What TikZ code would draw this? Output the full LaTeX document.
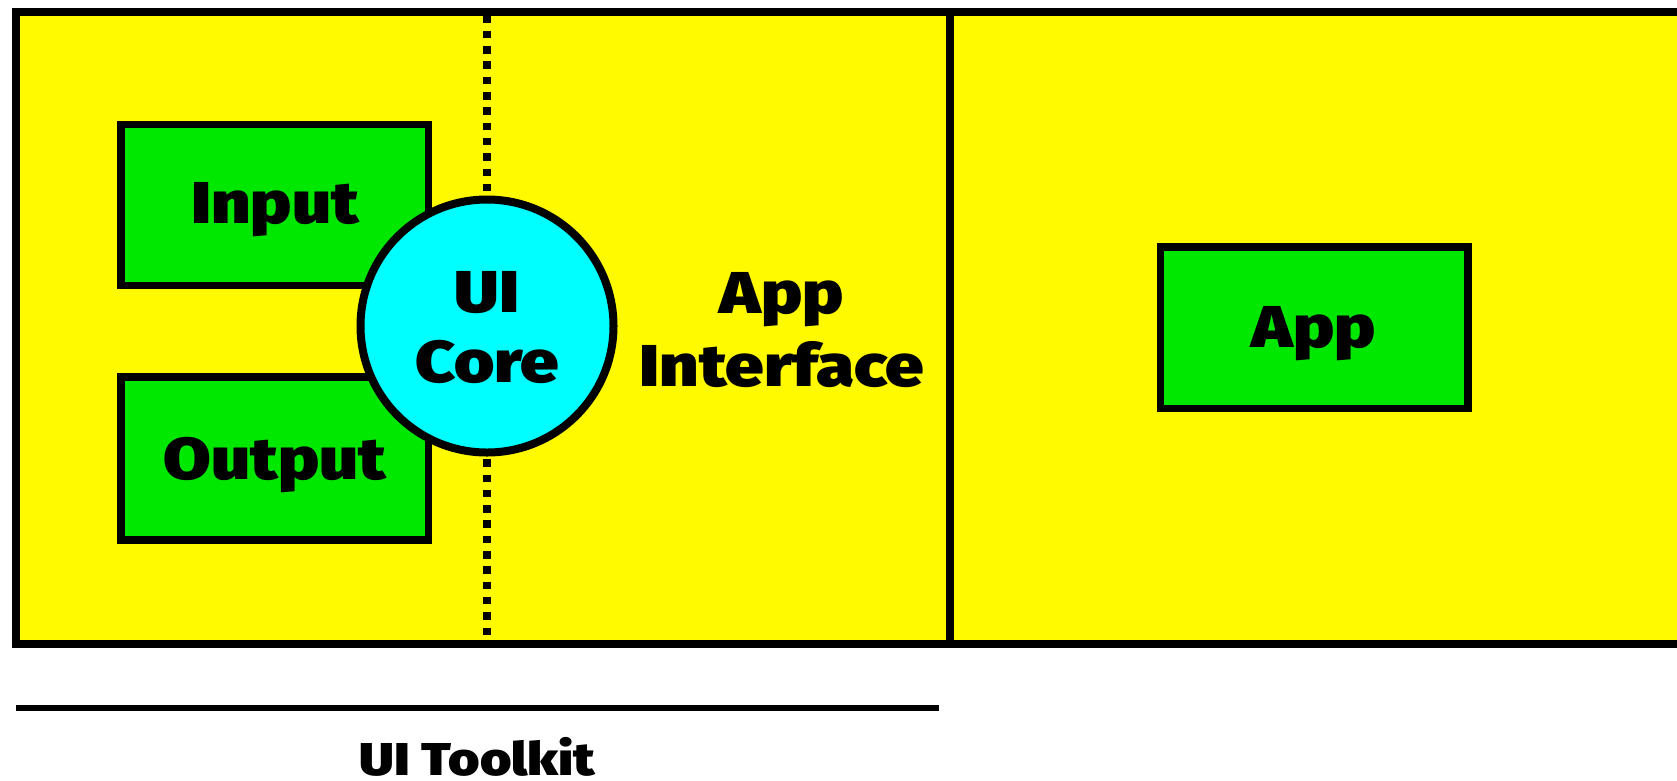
\documentclass[tikz,border=0pt]{standalone}
\usepackage{fontspec}
\setmainfont{Fira Sans Black}[FakeStretch=1.17]
\definecolor{bgyellow}{RGB}{255,250,0}
\definecolor{boxgreen}{RGB}{0,232,0}
\definecolor{corecyan}{RGB}{0,255,255}
\begin{document}
\begin{tikzpicture}[x=1pt,y=-1pt,
  panel/.style={draw=black,line width=8pt,fill=bgyellow},
  greenbox/.style={draw=black,line width=7.5pt,fill=boxgreen},
  bigtext/.style={font=\fontsize{59}{70}\selectfont,anchor=base,inner sep=0pt},
  smalltext/.style={font=\fontsize{46}{54}\selectfont,anchor=base,inner sep=0pt,text depth=0pt}]
\useasboundingbox (0,0) rectangle (1677,780);
% panels
\draw[panel] (950,11.5) rectangle (1681,643.5);
\draw[panel] (16,11.5) rectangle (950,643.5);
% dotted divider
\coordinate (dtop) at (487,15.5);
\coordinate (dbot) at (487,640);
\draw[line width=7.5pt,dash pattern=on 7.5pt off 7.8pt] (dtop) -- (dbot);
% input/output boxes
\draw[greenbox] (121,124.5) rectangle (428.5,285.5);
\draw[greenbox] (121,377) rectangle (428.5,540);
% core circle
\node[circle,draw=black,line width=8pt,fill=corecyan,minimum size=253pt,inner sep=0pt] (core) at (487,326) {};
% app box
\draw[greenbox] (1160.5,247) rectangle (1468,408.5);
% texts
\node[bigtext] (input) at (275,223) {Input};
\node[bigtext] (output) at (275,479) {Output};
\node[bigtext] (ui) at (487,312) {UI};
\node[bigtext] (coretxt) at (487,382) {Core};
\node[bigtext] (appi1) at (782,313) {App};
\node[bigtext] (appi2) at (782,386) {Interface};
\node[bigtext] (app) at (1314,347) {App};
% toolkit line and label
\coordinate (la) at (16,708);
\coordinate (lb) at (939,708);
\draw[line width=5.5pt] (la) -- (lb);
\node[smalltext] (toolkit) at (477.5,775) {UI Toolkit};
\end{tikzpicture}
\end{document}
